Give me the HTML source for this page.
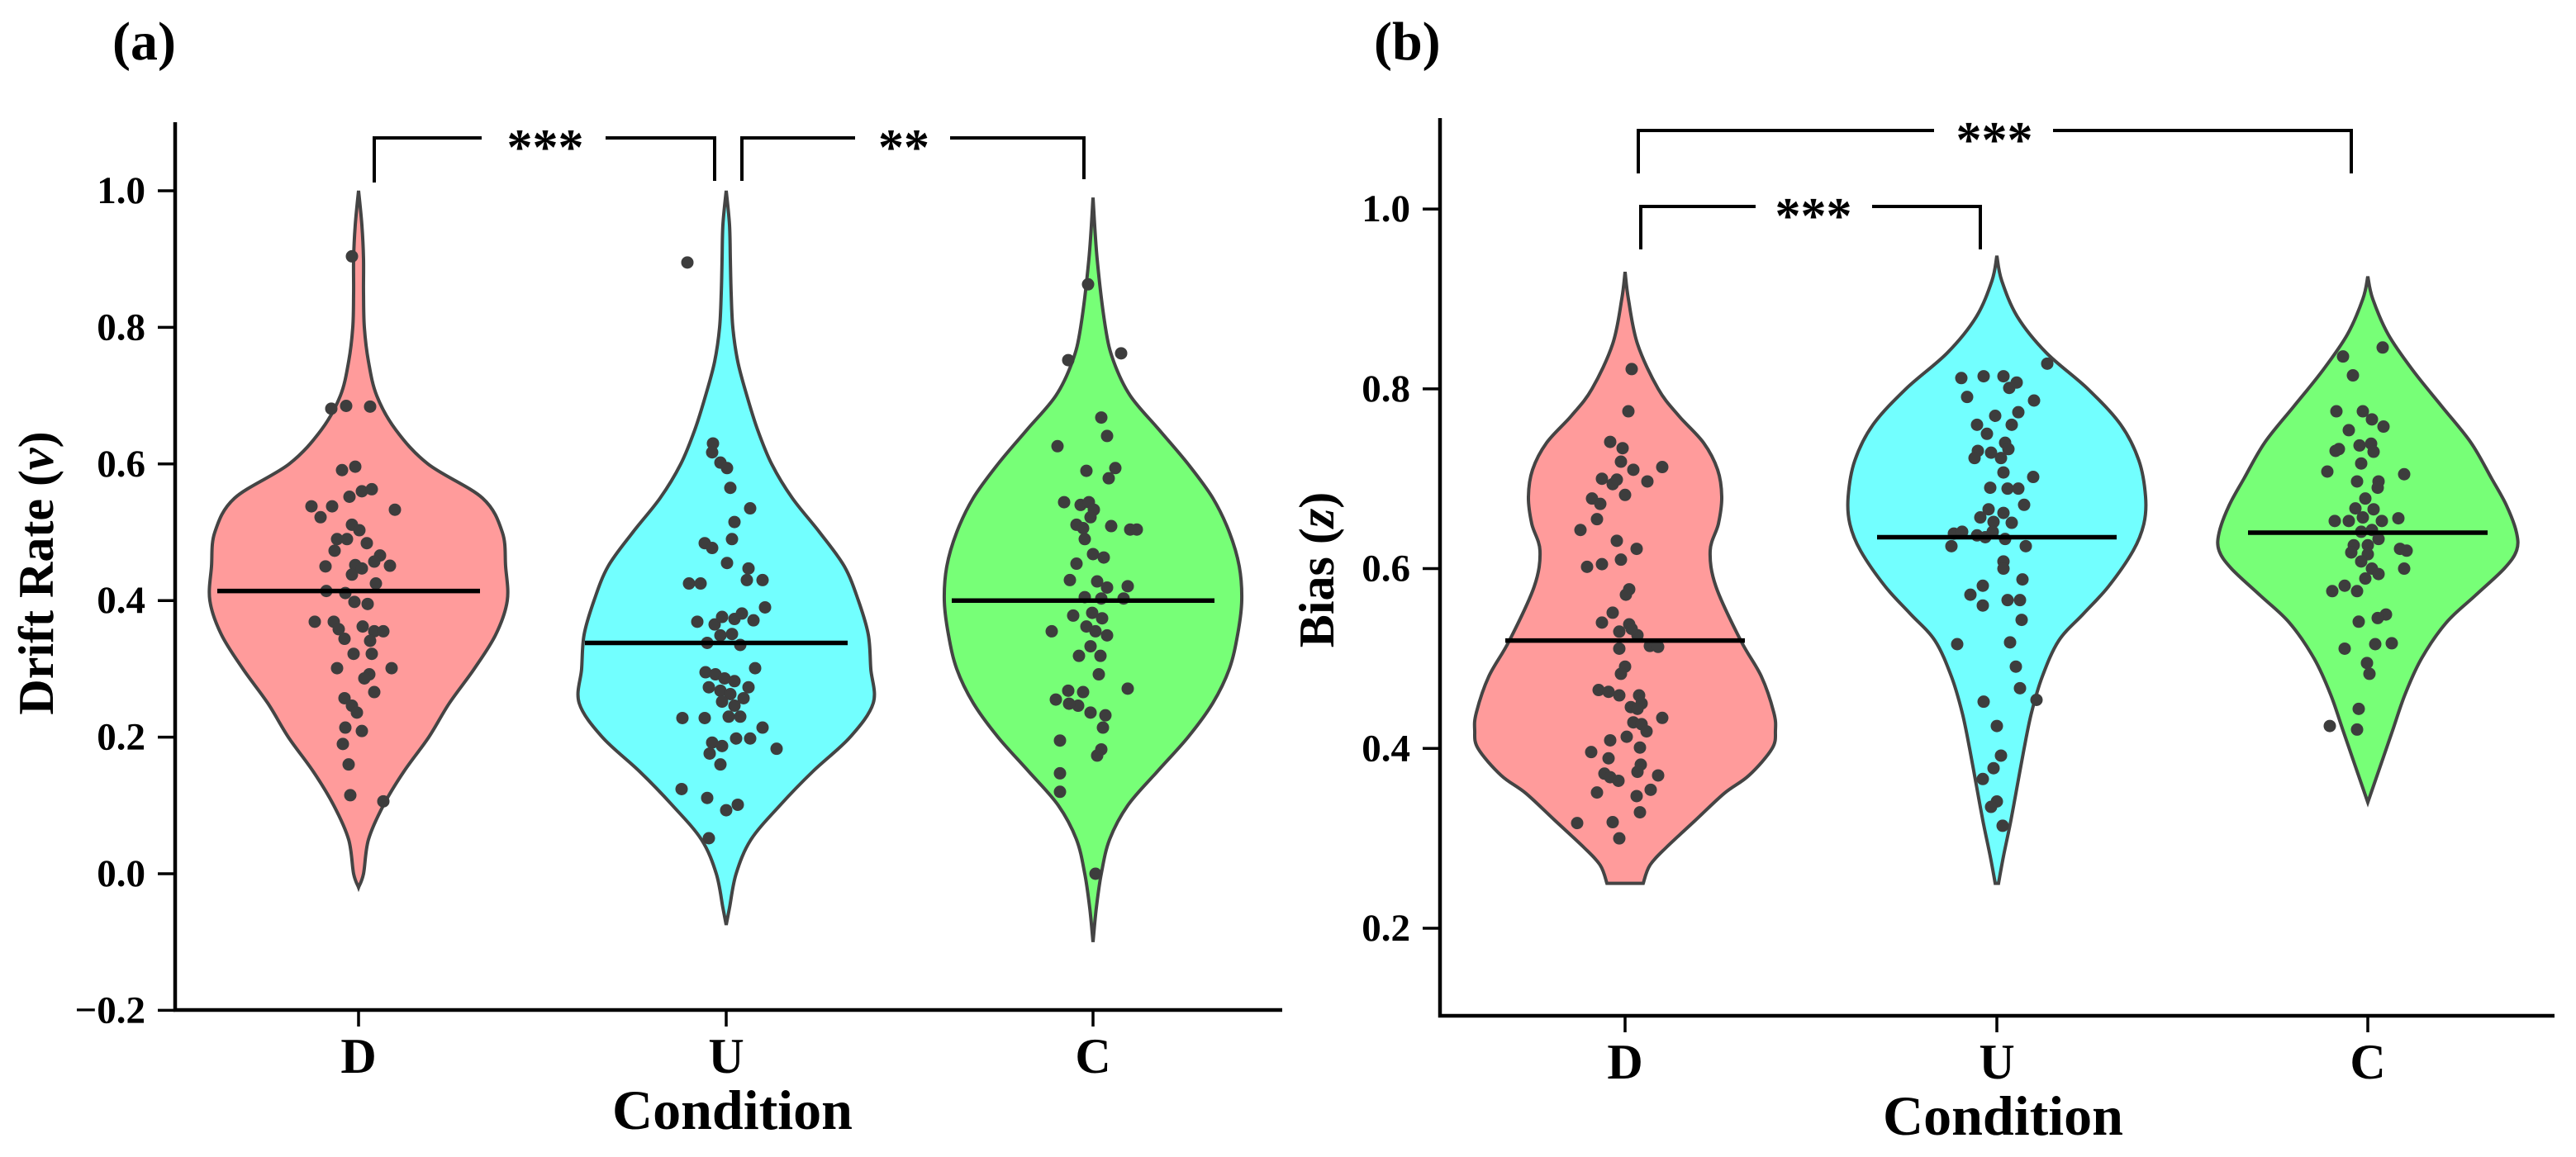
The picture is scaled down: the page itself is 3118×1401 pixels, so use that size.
<!DOCTYPE html>
<html><head><meta charset="utf-8">
<style>
html,body{margin:0;padding:0;background:#fff;}
svg{display:block;}
text{font-family:"Liberation Serif",serif;font-weight:bold;fill:#000;}
</style></head>
<body>
<svg id="fig" width="3118" height="1401" viewBox="0 0 3118 1401" xmlns="http://www.w3.org/2000/svg">
<g id="pa"></g>
<g id="pb"></g>
</svg>
<script>
const categories = ["D","U","C"];
// Panel (a) drift rate
const ticksA = [-0.2,0.0,0.2,0.4,0.6,0.8,1.0];
const tickLabelsA = ["\u22120.2","0.0","0.2","0.4","0.6","0.8","1.0"];
const meansA = [0.414,0.338,0.40];
const violinVA_D = [1.0,0.95,0.9,0.85,0.8,0.75,0.7,0.65,0.6,0.55,0.5,0.45,0.4,0.35,0.3,0.25,0.2,0.15,0.1,0.05,0.0,-0.02];
const violinWA_D = [0,4,6,6,7,12,22,45,84,150,174,178,180,166,140,110,85,55,30,12,6,0];
const violinVA_U = [1.0,0.95,0.9,0.85,0.8,0.75,0.7,0.65,0.6,0.55,0.5,0.45,0.4,0.35,0.3,0.25,0.2,0.15,0.1,0.05,0.0,-0.05,-0.075];
const violinWA_U = [0,4,5,6,8,14,25,38,55,80,113,143,160,172,175,178,150,105,65,30,12,4,0];
const violinVA_C = [0.99,0.9,0.8,0.75,0.7,0.65,0.6,0.55,0.5,0.45,0.4,0.35,0.3,0.25,0.2,0.15,0.1,0.05,0.0,-0.05,-0.1];
const violinWA_C = [0,5,15,25,45,80,115,145,165,177,180,175,165,145,115,78,42,20,10,4,0];
const pointsA_D = [0.904,0.681,0.685,0.684,0.591,0.596,0.538,0.538,0.552,0.56,0.563,0.533,0.522,0.511,0.503,0.49,0.49,0.484,0.473,0.45,0.452,0.466,0.451,0.457,0.438,0.447,0.425,0.414,0.411,0.398,0.395,0.369,0.369,0.358,0.362,0.355,0.355,0.344,0.341,0.322,0.322,0.301,0.292,0.301,0.286,0.257,0.246,0.236,0.266,0.214,0.209,0.19,0.16,0.115,0.106];
const jitterA_D = [-8,-33,-15,14,-20,-4,-57,-32,-11,4,16,44,-46,-8,1,-26,-14,10,-29,-40,-4,26,38,19,-8,4,21,-39,-16,-5,11,-53,-30,-24,5,19,30,-17,14,-6,16,-26,13,40,7,-17,-8,-2,19,-16,4,-19,-12,-10,30];
const pointsA_U = [0.895,0.63,0.617,0.602,0.594,0.565,0.535,0.515,0.484,0.477,0.49,0.455,0.447,0.43,0.43,0.425,0.425,0.369,0.365,0.376,0.373,0.381,0.371,0.39,0.338,0.349,0.351,0.335,0.295,0.292,0.286,0.282,0.301,0.273,0.268,0.263,0.273,0.252,0.246,0.257,0.228,0.228,0.23,0.23,0.214,0.192,0.187,0.198,0.198,0.183,0.176,0.16,0.124,0.111,0.093,0.101,0.052];
const jitterA_U = [-47,-16,-17,-7,1,5,29,10,-26,-17,7,1,27,25,44,-45,-31,-35,-14,-5,10,19,33,47,-23,-7,7,17,-25,-13,-2,10,35,-21,-7,5,27,-5,10,21,-53,-26,3,17,44,-17,-5,12,29,61,-20,-7,-54,-23,0,14,-21];
const pointsA_C = [0.863,0.752,0.762,0.668,0.641,0.626,0.59,0.594,0.579,0.544,0.54,0.544,0.533,0.511,0.506,0.522,0.509,0.504,0.504,0.49,0.468,0.463,0.454,0.43,0.428,0.419,0.421,0.405,0.403,0.403,0.378,0.382,0.374,0.355,0.362,0.355,0.349,0.333,0.319,0.319,0.292,0.271,0.268,0.266,0.255,0.246,0.236,0.232,0.249,0.214,0.195,0.182,0.173,0.147,0.12,0.0];
const jitterA_C = [-6,-30,34,10,17,-43,-8,27,19,-35,-15,-5,1,-20,-12,-3,22,45,53,-10,0,13,-20,-28,5,17,42,-10,10,37,-24,-1,11,-50,-8,3,17,-3,-17,9,7,42,-30,-12,-45,-18,-3,15,-29,12,-40,10,5,-40,-40,3];

// Panel (b) bias
const ticksB = [0.2,0.4,0.6,0.8,1.0];
const tickLabelsB = ["0.2","0.4","0.6","0.8","1.0"];
const meansB = [0.52,0.635,0.64];
const violinVB_D = [0.93,0.9,0.85,0.8,0.77,0.74,0.71,0.68,0.65,0.62,0.58,0.52,0.48,0.44,0.42,0.40,0.37,0.35,0.32,0.29,0.27,0.25];
const violinWB_D = [0,4,15,40,65,95,112,117,113,103,110,140,165,180,182,178,150,120,85,50,30,22];
const violinVB_U = [0.948,0.92,0.88,0.84,0.80,0.76,0.72,0.68,0.65,0.62,0.58,0.55,0.52,0.48,0.44,0.40,0.36,0.32,0.28,0.25];
const violinWB_U = [0,6,25,60,110,150,172,180,178,165,135,105,75,55,42,33,25,17,8,2];
const violinVB_C = [0.925,0.9,0.86,0.82,0.78,0.74,0.70,0.67,0.64,0.62,0.60,0.57,0.54,0.50,0.46,0.42,0.38,0.34];
const violinWB_C = [0,6,25,55,90,125,150,168,180,180,165,130,95,65,45,30,15,0];
const pointsB_D = [0.822,0.775,0.741,0.734,0.719,0.71,0.713,0.697,0.7,0.694,0.699,0.682,0.678,0.672,0.655,0.643,0.631,0.622,0.61,0.602,0.605,0.577,0.571,0.551,0.538,0.54,0.53,0.526,0.533,0.514,0.513,0.511,0.491,0.483,0.465,0.463,0.459,0.459,0.45,0.446,0.444,0.434,0.429,0.427,0.419,0.413,0.409,0.401,0.396,0.389,0.382,0.374,0.372,0.368,0.364,0.37,0.354,0.351,0.347,0.329,0.317,0.318,0.3];
const jitterB_D = [8,4,-18,-3,-5,10,45,27,-28,-15,-10,0,-40,-30,-34,-54,-10,14,-5,-46,-28,5,1,-15,5,-28,-7,15,8,30,40,-7,0,-5,-32,-20,-7,17,20,7,15,45,10,20,26,2,-18,18,-41,-20,19,15,-25,-18,-8,40,31,-34,14,18,-58,-15,-7];
const pointsB_U = [0.828,0.812,0.814,0.814,0.801,0.807,0.791,0.787,0.774,0.76,0.77,0.76,0.75,0.74,0.731,0.723,0.729,0.723,0.733,0.707,0.702,0.69,0.689,0.689,0.671,0.666,0.662,0.657,0.652,0.651,0.639,0.641,0.637,0.635,0.641,0.633,0.625,0.625,0.608,0.6,0.588,0.581,0.571,0.559,0.565,0.565,0.543,0.518,0.516,0.491,0.467,0.454,0.452,0.425,0.392,0.366,0.378,0.341,0.335,0.314];
const jitterB_U = [61,-43,-16,8,15,24,-36,45,26,-24,-2,18,-12,10,-23,-27,-7,5,14,8,44,-8,13,26,33,-10,8,-20,-4,18,-52,-42,-24,-14,-5,10,35,-55,8,8,31,-17,-32,-17,13,28,30,16,-48,23,28,48,-16,0,5,-17,-4,0,-7,7];
const pointsB_C = [0.846,0.836,0.815,0.775,0.775,0.766,0.758,0.754,0.733,0.731,0.737,0.739,0.73,0.717,0.708,0.705,0.697,0.697,0.69,0.678,0.667,0.666,0.656,0.653,0.653,0.657,0.653,0.641,0.643,0.626,0.626,0.633,0.622,0.62,0.618,0.616,0.608,0.6,0.6,0.594,0.589,0.581,0.575,0.575,0.549,0.545,0.541,0.517,0.516,0.511,0.495,0.483,0.444,0.425,0.421];
const jitterB_C = [18,-30,-18,-38,-6,5,19,-23,-35,-39,-10,4,7,-8,-49,44,13,-13,12,-3,-15,7,37,-40,-23,-6,17,-8,5,-17,0,13,39,47,-20,0,-8,5,44,13,-3,-28,-43,-13,22,12,-11,29,9,-28,-1,2,-11,-46,-13];

const NS = "http://www.w3.org/2000/svg";
function mk(parent, tag, attrs, txt){
  const e = document.createElementNS(NS, tag);
  for (const k in attrs) e.setAttribute(k, attrs[k]);
  if (txt !== undefined) e.textContent = txt;
  parent.appendChild(e);
  return e;
}
function smoothPath(pts){
  let d = "M" + pts[0][0].toFixed(1) + "," + pts[0][1].toFixed(1);
  for (let i = 0; i < pts.length - 1; i++){
    const p0 = pts[Math.max(i-1,0)], p1 = pts[i], p2 = pts[i+1], p3 = pts[Math.min(i+2,pts.length-1)];
    const c1 = [p1[0]+(p2[0]-p0[0])/6, p1[1]+(p2[1]-p0[1])/6];
    const c2 = [p2[0]-(p3[0]-p1[0])/6, p2[1]-(p3[1]-p1[1])/6];
    d += "C"+c1[0].toFixed(1)+","+c1[1].toFixed(1)+" "+c2[0].toFixed(1)+","+c2[1].toFixed(1)+" "+p2[0].toFixed(1)+","+p2[1].toFixed(1);
  }
  return d;
}
function violinPath(cx, vs, ws, yf, wscale){
  const right = vs.map((v,i)=>[cx + ws[i]*wscale, yf(v)]);
  const left = vs.map((v,i)=>[cx - ws[i]*wscale, yf(v)]).reverse();
  let d = smoothPath(right);
  d += "L" + left[0][0].toFixed(1) + "," + left[0][1].toFixed(1);
  d += smoothPath(left).replace(/^M[^C]*/, "");
  return d + "Z";
}

function drawPanel(cfg){
  const g = document.getElementById(cfg.id);
  const yf = cfg.y;
  cfg.violins.forEach((vw, i)=>{
    const p = mk(g, "path", {d: violinPath(cfg.cx[i], vw[0], vw[1], yf, 1.0), fill: cfg.colors[i], stroke: "#444", "stroke-width": 4});
    
    
  });
  cfg.points.forEach((pj, i)=>{
    pj[0].forEach((v, k)=>{
      const c = mk(g, "circle", {cx: cfg.cx[i] + pj[1][k], cy: yf(v), r: 7.5, fill: "#3d3d3d"});
      
      
    });
  });
  cfg.means.forEach((m, i)=>{
    const l = mk(g, "line", {x1: cfg.cx[i] + cfg.meanOff - cfg.meanHalf, x2: cfg.cx[i] + cfg.meanOff + cfg.meanHalf, y1: yf(m), y2: yf(m), stroke: "#000", "stroke-width": 5.5});
    
    
  });
  const ax = mk(g, "path", {d: "M"+cfg.ax0+","+cfg.axTop+"V"+cfg.axBot+"H"+cfg.ax1, fill: "none", stroke: "#000", "stroke-width": 4.5});
  
  
  cfg.ticks.forEach((t, i)=>{
    const tk = mk(g, "line", {x1: cfg.ax0 - 21, x2: cfg.ax0, y1: yf(t), y2: yf(t), stroke: "#000", "stroke-width": 3.5});
    
    
    const tl = mk(g, "text", {x: cfg.ax0 - 36, y: yf(t) + 15, "text-anchor": "end", "font-size": 47}, cfg.tickLabels[i]);
    
    
  });
  categories.forEach((c, i)=>{
    const tk = mk(g, "line", {x1: cfg.cx[i], x2: cfg.cx[i], y1: cfg.axBot, y2: cfg.axBot + 20, stroke: "#000", "stroke-width": 3.5});
    
    
    const tl = mk(g, "text", {x: cfg.cx[i], y: cfg.axBot + 76, "text-anchor": "middle", "font-size": 60}, c);
    
    
  });
  const xt = mk(g, "text", {x: (cfg.cx[0]+cfg.cx[2])/2 + 8, y: cfg.axBot + 144, "text-anchor": "middle", "font-size": 68}, "Condition");
  
  
  const yt = mk(g, "text", {x: 0, y: 0, "text-anchor": "middle", "font-size": cfg.ytSize, transform: "translate("+cfg.ytX+","+cfg.ytY+") rotate(-90)"});
  
  
  mk(yt, "tspan", {}, cfg.ytText);
  mk(yt, "tspan", {"font-style": "italic"}, cfg.ytVar);
  mk(yt, "tspan", {}, ")");
  const pl = mk(g, "text", {x: cfg.plX, y: 72, "font-size": 66}, cfg.plText);
  
  
  cfg.brackets.forEach(b=>{
    const bg = mk(g, "g", {});
    
    
    mk(bg, "path", {d: "M"+b.x0+","+b.yl0+"V"+b.top+"H"+b.g0+"M"+b.g1+","+b.top+"H"+b.x1+"V"+b.yl1, fill: "none", stroke: "#000", "stroke-width": 4});
    const st = mk(bg, "text", {x: b.tx, y: b.top + 32, "text-anchor": "middle", "font-size": 62}, b.label);
    
    
  });
}

drawPanel({
  id: "pa",
  y: v => 1058 - 827*v,
  cx: [434, 879, 1323],
  colors: ["#ff9b9b", "#72ffff", "#77ff77"],
  violins: [[violinVA_D, violinWA_D], [violinVA_U, violinWA_U], [violinVA_C, violinWA_C]],
  points: [[pointsA_D, jitterA_D], [pointsA_U, jitterA_U], [pointsA_C, jitterA_C]],
  means: meansA, meanOff: -12, meanHalf: 159,
  ax0: 212, ax1: 1552, axTop: 148, axBot: 1223,
  ticks: ticksA, tickLabels: tickLabelsA,
  ytX: 64, ytY: 694, ytSize: 60, ytText: "Drift Rate (", ytVar: "v",
  plX: 136, plText: "(a)",
  brackets: [
    {x0: 453, x1: 865, yl0: 221, yl1: 219, top: 167, g0: 583, g1: 733, tx: 660, label: "***"},
    {x0: 898, x1: 1312, yl0: 219, yl1: 217, top: 167, g0: 1035, g1: 1150, tx: 1094, label: "**"}
  ]
});
drawPanel({
  id: "pb",
  y: v => 1124 - (v - 0.2)*1088.6,
  cx: [1967, 2417, 2866],
  colors: ["#ff9b9b", "#72ffff", "#77ff77"],
  violins: [[violinVB_D, violinWB_D], [violinVB_U, violinWB_U], [violinVB_C, violinWB_C]],
  points: [[pointsB_D, jitterB_D], [pointsB_U, jitterB_U], [pointsB_C, jitterB_C]],
  means: meansB, meanOff: 0, meanHalf: 145,
  ax0: 1743, ax1: 3092, axTop: 143, axBot: 1230,
  ticks: ticksB, tickLabels: tickLabelsB,
  ytX: 1614, ytY: 690, ytSize: 60, ytText: "Bias (", ytVar: "z",
  plX: 1663, plText: "(b)",
  brackets: [
    {x0: 1983, x1: 2846, yl0: 210, yl1: 210, top: 158, g0: 2341, g1: 2485, tx: 2414, label: "***"},
    {x0: 1986, x1: 2397, yl0: 302, yl1: 302, top: 250, g0: 2125, g1: 2266, tx: 2195, label: "***"}
  ]
});
</script>
</body></html>
